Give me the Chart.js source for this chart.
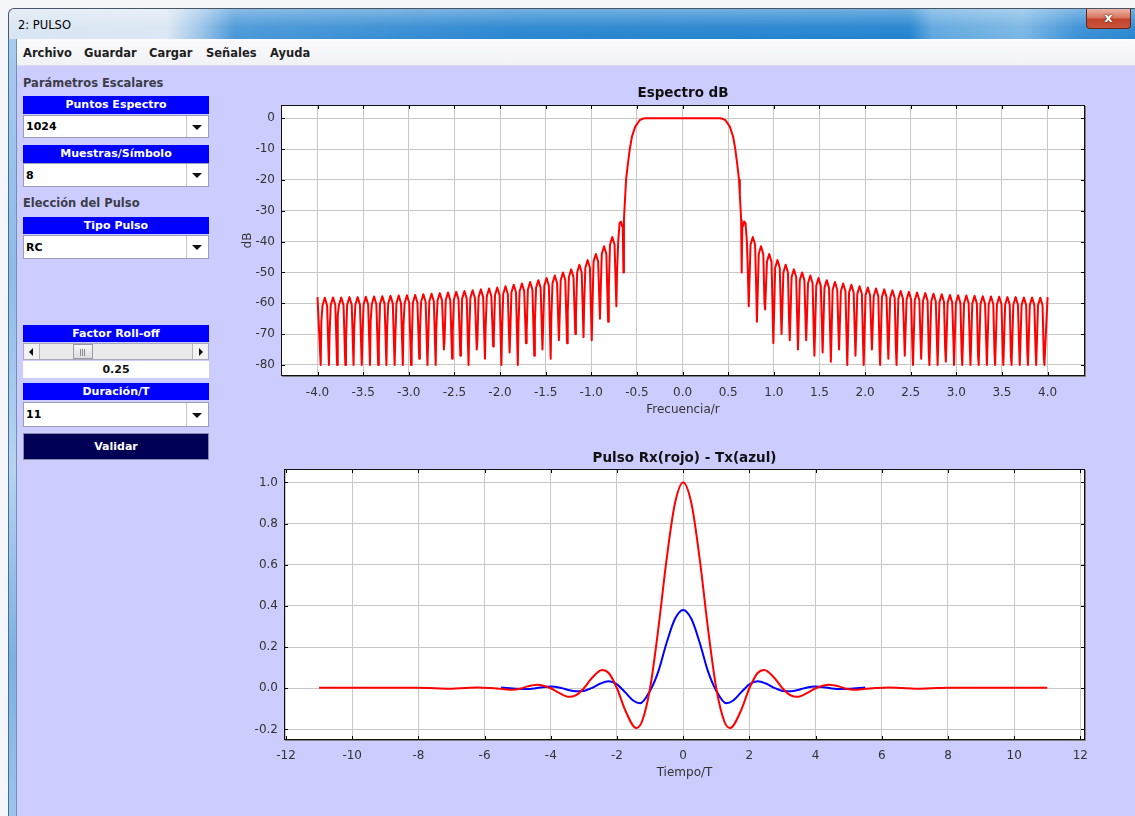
<!DOCTYPE html>
<html>
<head>
<meta charset="utf-8">
<title>2: PULSO</title>
<script src="https://cdn.jsdelivr.net/npm/chart.js@4.4.0/dist/chart.umd.min.js"></script>
<style>
  html, body { margin: 0; padding: 0; }
  body { width: 1135px; height: 816px; overflow: hidden; position: relative; background: #f4f6f9; font-family: "DejaVu Sans", sans-serif; }
  .abs { position: absolute; }
  #titlebar { left: 8px; top: 8px; width: 1127px; height: 31px; border-top: 1px solid #4a5566; border-left: 1px solid #4a5566; border-top-left-radius: 6px; box-sizing: border-box;
    background:
      linear-gradient(180deg, rgba(255,255,255,0.35) 0%, rgba(255,255,255,0.05) 60%, rgba(255,255,255,0) 100%),
      linear-gradient(90deg, #d8e5f3 0%, #dbe7f4 14%, #9cc4e8 17%, #4a98d8 20%, #2a86d0 45%, #2383cf 80%, #5fa7df 82%, #7ab6e4 90%, #3a90d6 95%, #2a86d0 100%); }
  #titlebar .ttl { position: absolute; left: 9px; top: 8px; font-size: 11.5px; color: #000; line-height: 16px; }
  #closebtn { left: 1086px; top: 9px; width: 45px; height: 20px; border: 1px solid #6b2317; border-top: none; border-radius: 0 0 4px 4px; box-sizing: border-box;
    background: linear-gradient(180deg, #eab3a6 0%, #d9765f 45%, #c4422a 55%, #c9553c 100%); color: #fff; font: bold 13px "DejaVu Sans", sans-serif; text-align: center; line-height: 18px; text-shadow: 0 0 2px #5a1a10, 0 0 1px #5a1a10; }
  #lframe { left: 8px; top: 39px; width: 9px; height: 777px; box-sizing: border-box; border-left: 1px solid #3f6d9e; border-right: 1px solid #6f8fb5;
    background: linear-gradient(180deg, #a9cbec 0%, #8fbbe6 30%, #b7d3ef 55%, #7eb0e0 80%, #9ec4ea 100%); }
  #menubar { left: 17px; top: 39px; width: 1118px; height: 27px; background: linear-gradient(180deg, #fbfbfd 0%, #f1f2f6 100%); border-bottom: 1px solid #d8d8ee; box-sizing: border-box; }
  #menubar span { position: absolute; top: 6px; font: bold 11.5px "DejaVu Sans", sans-serif; color: #1e1e1e; line-height: 16px; }
  #client { left: 17px; top: 66px; width: 1118px; height: 750px; background: #ccccff; }
  .lbl { position: absolute; left: 23px; font: bold 11.5px "DejaVu Sans", sans-serif; color: #3c3c4a; line-height: 16px; }
  .hdr { position: absolute; left: 23px; width: 186px; background: #0000ff; color: #fff; font: bold 11px "DejaVu Sans", sans-serif; text-align: center; }
  .combo { position: absolute; left: 23px; width: 186px; background: #fff; border: 1px solid #9c9cb4; box-sizing: border-box; font: bold 11px "DejaVu Sans", sans-serif; color: #000; }
  .combo .v { position: absolute; left: 2px; top: 0; bottom: 0; display: flex; align-items: center; }
  .combo .dd { position: absolute; right: 0; top: 0; bottom: 0; width: 21px; border-left: 1px solid #c4c4d4; background: #fff; }
  .combo .dd::after { content: ""; position: absolute; left: 5px; top: 50%; margin-top: -2px; border-left: 5px solid transparent; border-right: 5px solid transparent; border-top: 5px solid #111; }
  #scroll { left: 23px; top: 343px; width: 186px; height: 17px; background: #eaeaea; border: 1px solid #a8a8b8; box-sizing: border-box; }
  #scroll .arr { position: absolute; top: 0; bottom: 0; width: 15px; background: #f2f2f2; }
  #scroll .arr.l { left: 0; border-right: 1px solid #b8b8b8; }
  #scroll .arr.r { right: 0; border-left: 1px solid #b8b8b8; }
  #scroll .arr.l::after { content: ""; position: absolute; left: 5px; top: 4px; border-top: 4px solid transparent; border-bottom: 4px solid transparent; border-right: 4px solid #111; }
  #scroll .arr.r::after { content: ""; position: absolute; left: 6px; top: 4px; border-top: 4px solid transparent; border-bottom: 4px solid transparent; border-left: 4px solid #111; }
  #scroll .thumb { position: absolute; left: 49px; top: 0; bottom: 0; width: 20px; background: linear-gradient(180deg, #f6f6f6, #dedede); border: 1px solid #9a9aaa; box-sizing: border-box; }
  #scroll .thumb::after { content: ""; position: absolute; left: 6px; top: 4px; width: 6px; height: 7px; background: repeating-linear-gradient(90deg, #8a8a9a 0 1px, transparent 1px 2px); }
  #rolloff { left: 23px; top: 361px; width: 186px; height: 17px; background: #fff; font: bold 11px "DejaVu Sans", sans-serif; text-align: center; line-height: 17px; color: #111; }
  #validar { left: 23px; top: 433px; width: 186px; height: 27px; background: #000055; border: 1px solid #8a8aa6; box-sizing: border-box; color: #fff; font: bold 11px "DejaVu Sans", sans-serif; text-align: center; line-height: 25px; }
  .plot { position: absolute; left: 230px; width: 880px; height: 345px; }
</style>
</head>
<body>
<div id="titlebar" class="abs"><span class="ttl">2: PULSO</span></div>
<div id="closebtn" class="abs">x</div>
<div id="lframe" class="abs"></div>
<div id="menubar" class="abs">
  <span style="left:6px">Archivo</span>
  <span style="left:67px">Guardar</span>
  <span style="left:132px">Cargar</span>
  <span style="left:189px">Señales</span>
  <span style="left:253px">Ayuda</span>
</div>
<div id="client" class="abs"></div>

<div class="lbl" style="top:75px">Parámetros Escalares</div>
<div class="hdr" style="top:96px;height:18px;line-height:18px">Puntos Espectro</div>
<div class="combo" style="top:115px;height:23px"><span class="v">1024</span><span class="dd"></span></div>
<div class="hdr" style="top:145px;height:18px;line-height:18px">Muestras/Símbolo</div>
<div class="combo" style="top:163px;height:24px"><span class="v">8</span><span class="dd"></span></div>
<div class="lbl" style="top:195px">Elección del Pulso</div>
<div class="hdr" style="top:217px;height:17px;line-height:17px">Tipo Pulso</div>
<div class="combo" style="top:235px;height:24px"><span class="v">RC</span><span class="dd"></span></div>
<div class="hdr" style="top:325px;height:17px;line-height:17px">Factor Roll-off</div>
<div id="scroll" class="abs"><span class="arr l"></span><span class="thumb"></span><span class="arr r"></span></div>
<div id="rolloff" class="abs">0.25</div>
<div class="hdr" style="top:383px;height:17px;line-height:17px">Duración/T</div>
<div class="combo" style="top:402px;height:25px"><span class="v">11</span><span class="dd"></span></div>
<div id="validar" class="abs">Validar</div>

<div class="plot" style="top:80px"><canvas id="spec" width="880" height="345"></canvas></div>
<div class="plot" style="top:443px"><canvas id="pulse" width="880" height="345"></canvas></div>

<script>
// ---- Espectro dB ----
const specXTicks = [-4.0, -3.5, -3.0, -2.5, -2.0, -1.5, -1.0, -0.5, 0.0, 0.5, 1.0, 1.5, 2.0, 2.5, 3.0, 3.5, 4.0];
const specYTicks = [0, -10, -20, -30, -40, -50, -60, -70, -80];
const specStartF = -4.0;
const specEndF = 4.0;

// side lobes, negative frequencies: null positions, lobe level before each null, null depths
const specNullL = [-3.965, -3.875, -3.785, -3.695, -3.605, -3.515, -3.425, -3.335, -3.245, -3.155, -3.065, -2.975, -2.885,
  -2.795, -2.705, -2.615, -2.525, -2.435, -2.345, -2.255, -2.165, -2.075, -1.985, -1.895, -1.805, -1.715, -1.625, -1.535,
  -1.445, -1.355, -1.265, -1.175, -1.085, -0.995, -0.905, -0.815, -0.725];
const specPeakL = [-58, -58.2, -58.1, -58.1, -58, -58, -57.9, -57.8, -57.7, -57.6, -57.5, -57.4, -57.3, -57.1, -56.9, -56.7,
  -56.5, -56.3, -56, -55.8, -55.5, -55.2, -54.9, -54.5, -54, -53.6, -53.1, -52.5, -51.8, -51, -50, -49, -47.5, -46, -44, -41.5, -38.5];
const specDeepL = [-80, -80, -80, -80, -80, -80, -80, -80, -80, -80, -80, -80, -78, -80, -80, -75, -78, -77, -80, -75, -78,
  -74, -80, -76, -80, -73, -77, -75, -78, -72, -73, -70, -71, -72, -65, -66, -61];
const specShallowL = [-66, -70, -64, -72, -68, -71, -66, -73, -69, -72, -67, -74, -70, -73, -68, -72, -69, -74, -70, -72, -68,
  -71, -69, -70, -67, -69, -66, -68, -65, -66, -63, -64, -60, -62, -57, -55, -50];

// main lobe
const lobeFreq = [-0.705, -0.69, -0.675, -0.662, -0.655, -0.648, -0.642, -0.637, -0.628, -0.619, -0.6, -0.578, -0.554, -0.518, -0.47, -0.43, -0.4,
  0.4, 0.43, 0.47, 0.518, 0.554, 0.578, 0.6, 0.619, 0.628, 0.637, 0.642, 0.648, 0.655, 0.662, 0.675, 0.69, 0.705];
const lobeDb = [-40, -34, -33.5, -35, -34.5, -50, -33, -30, -25, -20, -15, -10, -5.9, -2.7, -0.6, -0.05, 0,
  0, -0.05, -0.6, -2.7, -5.9, -10, -15, -20, -25, -30, -33, -50, -34.5, -35, -33.5, -34, -40];

// side lobes, positive frequencies: lobe level after each null (last = end value)
const specNullR = [0.725, 0.815, 0.905, 0.995, 1.085, 1.175, 1.265, 1.355, 1.445, 1.535, 1.625, 1.715, 1.805, 1.895, 1.985,
  2.075, 2.165, 2.255, 2.345, 2.435, 2.525, 2.615, 2.705, 2.795, 2.885, 2.975, 3.065, 3.155, 3.245, 3.335, 3.425, 3.515,
  3.605, 3.695, 3.785, 3.875, 3.965];
const specPeakR = [-38.5, -41.5, -44, -46, -47.5, -49, -50, -51, -51.8, -52.5, -53.1, -53.6, -54, -54.5, -54.9, -55.2, -55.5,
  -55.8, -56, -56.3, -56.5, -56.7, -56.9, -57.1, -57.3, -57.4, -57.5, -57.6, -57.7, -57.8, -57.9, -58, -58, -58.1, -58.1, -58.2, -58];
const specDeepR = [-61, -66, -62, -73, -70, -72, -75, -72, -77, -76, -79, -75, -80, -77, -80, -75, -80, -78, -80, -77, -80,
  -78, -80, -80, -79, -80, -80, -80, -80, -80, -80, -80, -80, -80, -80, -80, -80];
const specShallowR = [-52, -56, -60, -64, -63, -66, -67, -66, -70, -68, -70, -69, -72, -70, -73, -69, -74, -71, -75, -70, -74,
  -72, -76, -73, -75, -72, -76, -74, -77, -73, -76, -75, -77, -74, -76, -75, -77];

// ---- Pulso Rx(rojo) - Tx(azul) ----
const pulseXTicks = [-12, -10, -8, -6, -4, -2, 0, 2, 4, 6, 8, 10, 12];
const pulseYTicks = [1.0, 0.8, 0.6, 0.4, 0.2, 0.0, -0.2];

const rxT = [-11, -10, -9, -8, -7.5, -7, -6.6, -6.2, -5.8, -5.5, -5.15, -4.9, -4.7, -4.4, -4, -3.75, -3.45, -3.25, -3, -2.75,
  -2.45, -2.25, -2, -1.75, -1.42, -1.25, -1, -0.75, -0.5, -0.25, 0, 0.25, 0.5, 0.75, 1, 1.25, 1.42, 1.75, 2, 2.25, 2.45,
  2.75, 3, 3.25, 3.45, 3.75, 4, 4.4, 4.7, 4.9, 5.15, 5.5, 5.8, 6.2, 6.6, 7, 7.5, 8, 9, 10, 11];
const rxV = [0.002, 0.002, 0.002, 0.002, 0, -0.002, 0.001, 0.004, 0.001, -0.003, -0.007, -0.001, 0.009, 0.017, 0, -0.023,
  -0.042, -0.035, 0, 0.051, 0.089, 0.074, 0, -0.107, -0.193, -0.164, 0, 0.29, 0.627, 0.897, 1, 0.897, 0.627, 0.29, 0,
  -0.164, -0.193, -0.107, 0, 0.074, 0.089, 0.051, 0, -0.035, -0.042, -0.023, 0, 0.017, 0.009, -0.001, -0.007, -0.003,
  0.001, 0.004, 0.001, -0.002, 0, 0.002, 0.002, 0.002, 0.002];

const txT = [-5.5, -5, -4.75, -4.5, -4.25, -4, -3.75, -3.5, -3.25, -3, -2.75, -2.5, -2.25, -2, -1.75, -1.5, -1.3, -1, -0.75,
  -0.5, -0.25, 0, 0.25, 0.5, 0.75, 1, 1.3, 1.5, 1.75, 2, 2.25, 2.5, 2.75, 3, 3.25, 3.5, 3.75, 4, 4.25, 4.5, 4.75, 5, 5.5];
const txV = [0.003, -0.003, -0.004, -0.001, 0.005, 0.008, 0.004, -0.007, -0.015, -0.013, 0.002, 0.023, 0.034, 0.019, -0.02,
  -0.061, -0.073, -0.012, 0.082, 0.221, 0.336, 0.38, 0.336, 0.221, 0.082, -0.012, -0.073, -0.061, -0.02, 0.019, 0.034,
  0.023, 0.002, -0.013, -0.015, -0.007, 0.004, 0.008, 0.005, -0.001, -0.004, -0.003, 0.003];

// build the spectrum trace, lobe by lobe
function buildSpectrum() {
  const pts = [];
  specNullL.forEach((f, k) => {
    const p = specPeakL[k];
    if (k === 0) pts.push({ x: specStartF, y: p });
    else pts.push({ x: f - 0.07, y: p - 2.5 }, { x: f - 0.045, y: p }, { x: f - 0.02, y: p - 2.5 });
    pts.push({ x: f, y: specDeepL[k] }, { x: f + 0.007, y: specShallowL[k] });
  });
  lobeFreq.forEach((f, i) => pts.push({ x: f, y: lobeDb[i] }));
  specNullR.forEach((f, k) => {
    pts.push({ x: f - 0.007, y: specShallowR[k] }, { x: f, y: specDeepR[k] });
    const p = specPeakR[k];
    if (k === specNullR.length - 1) pts.push({ x: specEndF, y: p });
    else pts.push({ x: f + 0.02, y: p - 2.5 }, { x: f + 0.045, y: p }, { x: f + 0.07, y: p - 2.5 });
  });
  return pts;
}

const zip = (xs, ys) => xs.map((x, i) => ({ x, y: ys[i] }));

// white plot background, frame and inward tick marks
const plotFrame = {
  id: 'plotFrame',
  beforeDraw(chart) {
    const { ctx, chartArea: a } = chart;
    ctx.save();
    ctx.fillStyle = '#ffffff';
    ctx.fillRect(a.left, a.top, a.right - a.left, a.bottom - a.top);
    ctx.restore();
  },
  afterDraw(chart) {
    const { ctx, chartArea: a, scales: { x, y } } = chart;
    ctx.save();
    ctx.strokeStyle = '#000';
    ctx.lineWidth = 1;
    ctx.beginPath();
    x.ticks.forEach(t => {
      const px = Math.round(x.getPixelForValue(t.value)) + 0.5;
      ctx.moveTo(px, a.top); ctx.lineTo(px, a.top + 4);
      ctx.moveTo(px, a.bottom); ctx.lineTo(px, a.bottom - 4);
    });
    y.ticks.forEach(t => {
      const py = Math.round(y.getPixelForValue(t.value)) + 0.5;
      ctx.moveTo(a.left, py); ctx.lineTo(a.left + 4, py);
      ctx.moveTo(a.right, py); ctx.lineTo(a.right - 4, py);
    });
    ctx.stroke();
    ctx.strokeStyle = '#111';
    ctx.strokeRect(Math.round(a.left) + 0.5, Math.round(a.top) + 0.5, Math.round(a.right - a.left) - 1, Math.round(a.bottom - a.top) - 1);
    ctx.strokeStyle = '#808080';
    ctx.beginPath();
    ctx.moveTo(Math.round(a.right) + 0.5, Math.round(a.top) + 1);
    ctx.lineTo(Math.round(a.right) + 0.5, Math.round(a.bottom) + 0.5);
    ctx.lineTo(Math.round(a.left) + 1, Math.round(a.bottom) + 0.5);
    ctx.stroke();
    ctx.restore();
  }
};

Chart.defaults.font.family = '"DejaVu Sans", sans-serif';
Chart.defaults.font.size = 12;
Chart.defaults.color = '#333';

function axis(opts) {
  return {
    type: 'linear',
    min: opts.min,
    max: opts.max,
    afterBuildTicks: s => { s.ticks = opts.ticks.map(v => ({ value: v })); },
    afterFit: s => { if (opts.width) s.width = opts.width; if (opts.height) s.height = opts.height; },
    grid: { color: '#c8c8c8', lineWidth: 1, drawTicks: false },
    border: { display: false },
    ticks: { padding: opts.padding, callback: opts.fmt, color: '#333', font: { size: 12 } },
    title: opts.title ? { display: true, text: opts.title, color: '#333', font: { size: 12 }, padding: opts.titlePad } : { display: false }
  };
}

new Chart(document.getElementById('spec'), {
  type: 'line',
  data: {
    datasets: [{
      data: buildSpectrum(),
      borderColor: '#ff0000',
      borderWidth: 2,
      borderJoinStyle: 'round',
      pointRadius: 0,
      tension: 0
    }]
  },
  options: {
    responsive: false,
    animation: false,
    layout: { padding: { left: 0, right: 25, top: 0, bottom: 0 } },
    plugins: {
      legend: { display: false },
      tooltip: { enabled: false },
      title: { display: true, text: 'Espectro dB', fullSize: false, color: '#111',
        font: { size: 13.5, weight: 'bold', lineHeight: '13px' }, padding: { top: 7, bottom: 5 } }
    },
    scales: {
      x: axis({ min: -4.4, max: 4.41, ticks: specXTicks, height: 49, padding: 9.5, fmt: v => Number(v).toFixed(1),
        title: 'Frecuencia/r', titlePad: { top: 0, bottom: 7.8 } }),
      y: axis({ min: -83.6, max: 4.33, ticks: specYTicks, width: 51, padding: 6, fmt: v => String(v),
        title: 'dB', titlePad: { top: 11, bottom: 0 } })
    }
  },
  plugins: [plotFrame]
});

new Chart(document.getElementById('pulse'), {
  type: 'line',
  data: {
    datasets: [
      {
        label: 'Rx',
        data: zip(rxT, rxV),
        borderColor: '#ff0000',
        borderWidth: 2,
        pointRadius: 0,
        cubicInterpolationMode: 'monotone'
      },
      {
        label: 'Tx',
        data: zip(txT, txV),
        borderColor: '#0000ff',
        borderWidth: 2,
        pointRadius: 0,
        cubicInterpolationMode: 'monotone'
      }
    ]
  },
  options: {
    responsive: false,
    animation: false,
    layout: { padding: { left: 0, right: 25, top: 0, bottom: 0 } },
    plugins: {
      legend: { display: false },
      tooltip: { enabled: false },
      title: { display: true, text: 'Pulso Rx(rojo) - Tx(azul)', fullSize: false, color: '#111',
        font: { size: 13.5, weight: 'bold', lineHeight: '13px' }, padding: { top: 9, bottom: 4 } }
    },
    scales: {
      x: axis({ min: -12.06, max: 12.14, ticks: pulseXTicks, height: 48, padding: 8.8, fmt: v => String(v),
        title: 'Tiempo/T', titlePad: { top: 0, bottom: 7.5 } }),
      y: axis({ min: -0.2515, max: 1.065, ticks: pulseYTicks, width: 54, padding: 6, fmt: v => Number(v).toFixed(1) })
    }
  },
  plugins: [plotFrame]
});
</script>
</body>
</html>
